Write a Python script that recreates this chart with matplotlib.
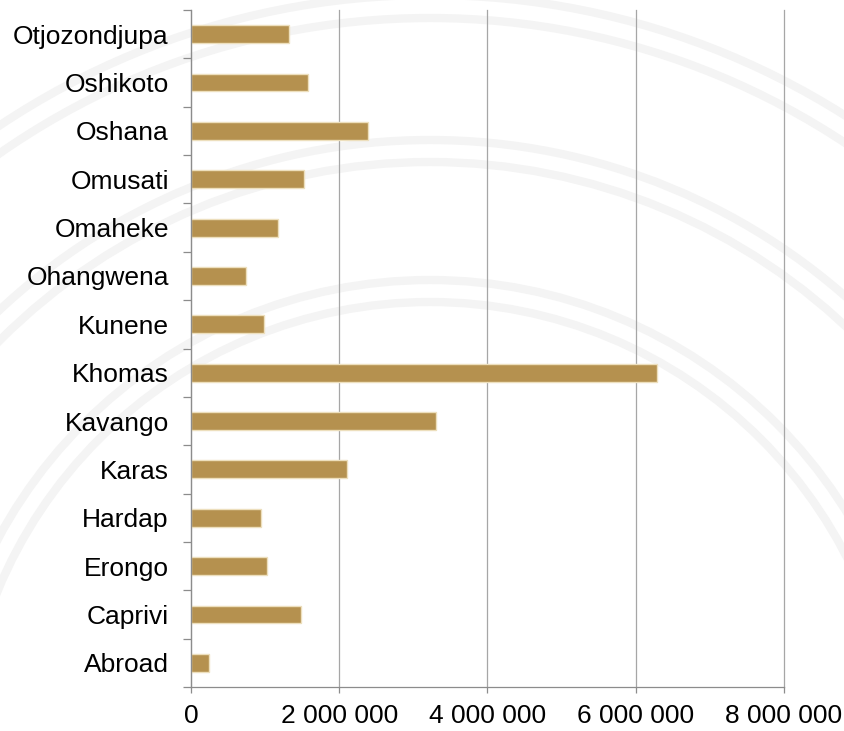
import matplotlib.pyplot as plt
import numpy as np
from matplotlib.patches import Circle
from matplotlib.ticker import FuncFormatter, FixedLocator

# regions, top to bottom as drawn
regions = ['Otjozondjupa', 'Oshikoto', 'Oshana', 'Omusati', 'Omaheke', 'Ohangwena',
           'Kunene', 'Khomas', 'Kavango', 'Karas', 'Hardap', 'Erongo', 'Caprivi', 'Abroad']
values = [1320000, 1580000, 2390000, 1530000, 1170000, 740000,
          980000, 6290000, 3310000, 2110000, 950000, 1030000, 1480000, 245000]
x_ticks = [0, 2000000, 4000000, 6000000, 8000000]

plt.rcParams['font.family'] = ['Liberation Sans', 'DejaVu Sans']

fig = plt.figure(figsize=(8.45, 7.31), dpi=100)

# faint ring watermark behind the chart (pixel coordinates)
bg = fig.add_axes([0, 0, 1, 1], zorder=0)
bg.set_xlim(0, 845)
bg.set_ylim(731, 0)
bg.axis('off')
for r in [775, 752, 630, 608, 490, 468]:
    bg.add_patch(Circle((430, 770), r, fill=False, edgecolor='#F4F4F4', linewidth=6))

ax = fig.add_axes([191 / 845, 1 - 687 / 731, (784 - 191) / 845, (687 - 10) / 731], zorder=1)
ax.patch.set_alpha(0)

y_pos = np.arange(len(regions))
ax.barh(y_pos, values, height=0.37, color='#B5914F', edgecolor='#EDDFBD', linewidth=1, zorder=3)

ax.set_xlim(0, 8000000)
ax.set_ylim(len(regions) - 0.5, -0.5)

ax.xaxis.set_major_locator(FixedLocator(x_ticks))
ax.xaxis.set_major_formatter(FuncFormatter(lambda v, p: '{:,}'.format(int(v)).replace(',', ' ')))
ax.grid(axis='x', color='#A6A6A6', linewidth=0.9, zorder=1)
for line in ax.get_xgridlines():
    line.set_clip_on(False)

# ticks between categories, labels at bar centres
ax.yaxis.set_major_locator(FixedLocator(np.arange(-0.5, len(regions), 1)))
ax.yaxis.set_major_formatter(FuncFormatter(lambda v, p: ''))
ax.yaxis.set_minor_locator(FixedLocator(y_pos))
ax.set_yticklabels(regions, minor=True)
ax.tick_params(axis='y', which='major', length=6, width=0.9, color='#8C8C8C')
ax.tick_params(axis='y', which='minor', length=0, pad=16, labelsize=19)
ax.tick_params(axis='x', length=4, width=0.9, color='#8C8C8C', pad=8, labelsize=19)

for side in ['top', 'right']:
    ax.spines[side].set_visible(False)
for side in ['left', 'bottom']:
    ax.spines[side].set_color('#8C8C8C')
    ax.spines[side].set_linewidth(0.9)
    ax.spines[side].set_zorder(4)

fig.savefig('out.png', dpi=100)
